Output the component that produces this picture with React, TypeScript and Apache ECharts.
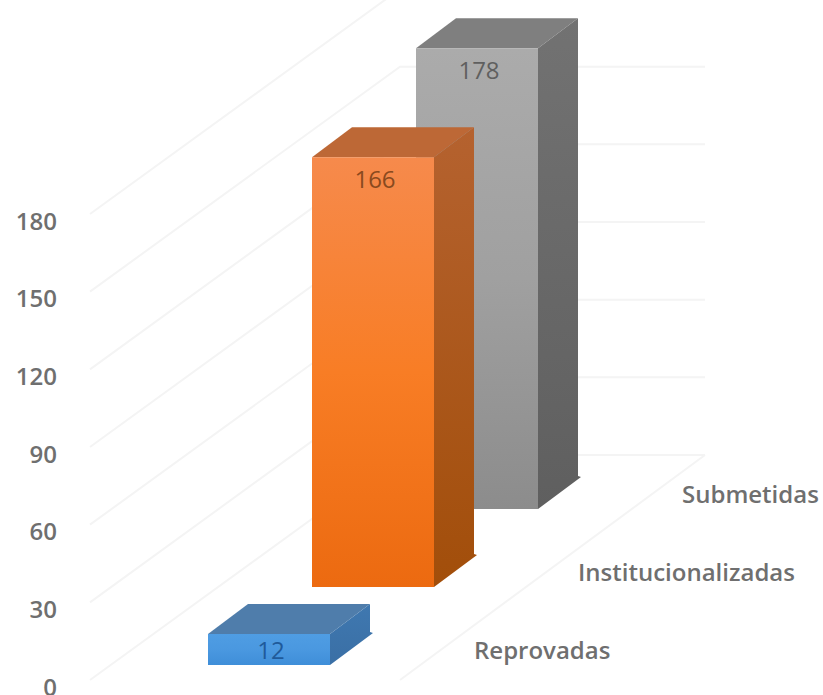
import React, { useEffect, useRef } from "react";
import * as echarts from "echarts";

const CATEGORIES = ["Reprovadas", "Institucionalizadas", "Submetidas"];
const VALUES = [12, 166, 178];
const TICKS = [0, 30, 60, 90, 120, 150, 180];
const FRONT_COLORS = [
  ["#4f9de3", "#4a98e0", "#3f8ed8"],
  ["#f68a4c", "#f87d25", "#ec6a10"],
  ["#ababab", "#a0a0a0", "#8c8c8c"],
];
const SIDE_COLORS = [
  ["#3f78b0", "#3a6fa5"],
  ["#b5622f", "#a24e0a"],
  ["#727272", "#5f5f5f"],
];
const TOP_COLORS = ["#4f7dab", "#bd6836", "#7f7f7f"];
const VALUE_LABEL_COLORS = ["#1f5a9a", "#8a4a1e", "#5f5f5f"];

const FONT = '"Open Sans", sans-serif';
const BAR_W = 122;
const DX = 40;
const DY = 30;
const STEP_Y = 78;
const FLOOR_OFFSET = 21;

function renderWall(_p: any, api: any) {
  const v = api.value(1);
  const y = api.coord([0, v])[1] - 6;
  const x0 = 90;
  const x1 = 400;
  const rise = 225;
  const stroke = "#f4f4f4";
  const children: any[] = [
    {
      type: "polyline",
      shape: { points: [[x0, y], [x1, y - rise], [705, y - rise]] },
      style: { fill: "none", stroke, lineWidth: 2 },
    },
  ];
  if (v === 0) {
    children.push({
      type: "line",
      shape: { x1: x1, y1: y, x2: 705, y2: y - rise },
      style: { stroke, lineWidth: 2 },
    });
  }
  return { type: "group", children };
}

function renderBar(_p: any, api: any) {
  const i = api.value(0);
  const v = api.value(1);
  const shift = FLOOR_OFFSET + STEP_Y * i;
  const [cx, y0] = api.coord([i, 0]);
  const yTop = api.coord([i, v])[1] - shift;
  const yBot = y0 - shift;
  const l = cx - BAR_W / 2;
  const r = cx + BAR_W / 2;
  const grad = (c: string[]) =>
    new echarts.graphic.LinearGradient(
      0,
      0,
      0,
      1,
      c.map((color, k) => ({ offset: k / (c.length - 1), color }))
    );
  const h = yBot - yTop;
  return {
    type: "group",
    children: [
      {
        type: "polygon",
        shape: { points: [[l, yTop], [l + DX, yTop - DY], [r + DX, yTop - DY], [r, yTop]] },
        style: { fill: TOP_COLORS[i] },
      },
      {
        type: "polygon",
        shape: {
          points: [
            [r, yTop],
            [r + DX, yTop - DY],
            [r + DX, yBot - DY - 3],
            [r + DX + 3, yBot - DY - 2],
            [r, yBot],
          ],
        },
        style: { fill: grad(SIDE_COLORS[i]) },
      },
      {
        type: "rect",
        shape: { x: l, y: yTop, width: BAR_W, height: h },
        style: { fill: grad(FRONT_COLORS[i]) },
      },
      {
        type: "text",
        x: cx + 2,
        y: h < 46 ? yTop + h / 2 : yTop + 21,
        style: {
          text: String(v),
          font: `400 24px ${FONT}`,
          fill: VALUE_LABEL_COLORS[i],
          align: "center",
          verticalAlign: "middle",
        },
      },
      {
        type: "text",
        x: r + 144,
        y: yBot - 16,
        style: {
          text: CATEGORIES[i],
          font: `600 24px ${FONT}`,
          fill: "#6f6f6f",
          align: "left",
          verticalAlign: "middle",
        },
      },
    ],
  };
}

export default function App() {
  const ref = useRef<HTMLDivElement>(null);
  useEffect(() => {
    const chart = echarts.init(ref.current!, undefined, { renderer: "svg" });
    chart.setOption({
      animation: false,
      backgroundColor: "#ffffff",
      grid: { left: 217, width: 312, top: 220, height: 466, outerBoundsMode: "none" },
      xAxis: { type: "category", data: CATEGORIES, show: false },
      yAxis: {
        type: "value",
        min: 0,
        max: 180,
        interval: 30,
        axisLine: { show: false },
        axisTick: { show: false },
        splitLine: { show: false },
        axisLabel: {
          margin: 160,
          color: "#6f6f6f",
          fontFamily: "Open Sans",
          fontSize: 24,
          fontWeight: 600,
          lineHeight: 16,
        },
      },
      series: [
        {
          type: "custom",
          renderItem: renderWall,
          data: TICKS.map((t) => [0, t]),
          silent: true,
          z: 1,
        },
        {
          type: "custom",
          renderItem: renderBar,
          data: VALUES.map((v, i) => [i, v]).reverse(),
          silent: true,
          z: 2,
        },
      ],
    });
    return () => chart.dispose();
  }, []);
  return (
    <div
      ref={ref}
      style={{ position: "absolute", left: 0, top: 0, width: 823, height: 695 }}
    />
  );
}
